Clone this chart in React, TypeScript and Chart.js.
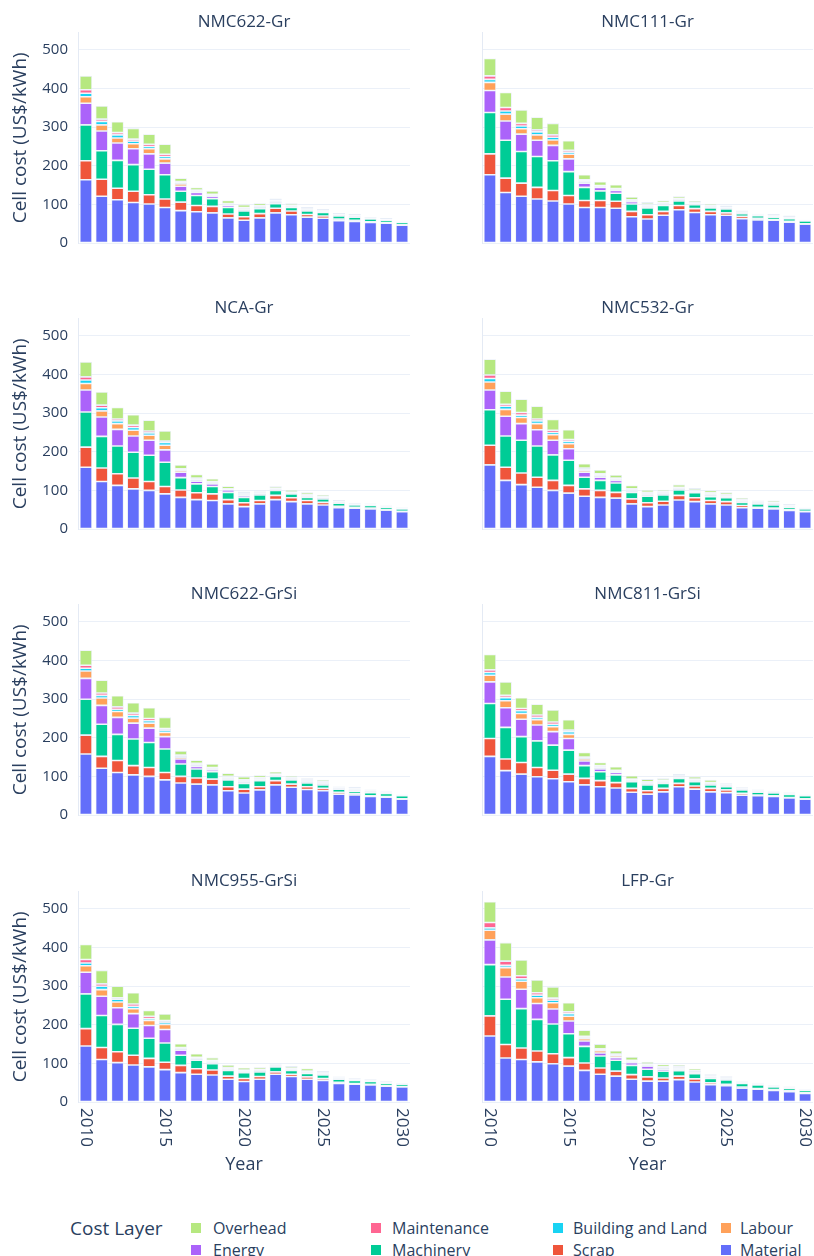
import React, { useEffect, useRef } from 'react';
import { Chart, registerables } from 'chart.js';

Chart.register(...registerables);
Chart.defaults.font.family = '"Open Sans", sans-serif';

// ---------- DATA ----------
const years = ['2010', '2011', '2012', '2013', '2014', '2015', '2016', '2017', '2018', '2019', '2020',
  '2021', '2022', '2023', '2024', '2025', '2026', '2027', '2028', '2029', '2030'];
const xTickLabels = ['2010', '2015', '2020', '2025', '2030'];
const yTicks = [0, 100, 200, 300, 400, 500];
const yMax = 545;

// stack order, bottom to top
const layerKeys = ['material', 'scrap', 'machinery', 'energy', 'labour', 'building', 'maintenance', 'overhead'];
const layerNames = ['Material', 'Scrap', 'Machinery', 'Energy', 'Labour', 'Building and Land', 'Maintenance', 'Overhead'];
const layerColors = ['#636EFA', '#EF553B', '#00CC96', '#AB63FA', '#FFA15A', '#19D3F3', '#FF6692', '#B6E880'];

const NMC622_Gr = {
  material: [164, 121, 112, 105, 101, 92, 84, 81, 78, 65, 59, 65, 78, 73, 67, 64, 58, 56, 53, 51, 46],
  scrap: [49, 44, 30, 29, 24, 22, 22, 16, 17, 10, 9, 11, 12, 10, 7, 6, 4, 3, 2, 2, 1],
  machinery: [93, 74, 72, 69, 66, 63, 28, 26, 20, 17, 15, 13, 12, 9, 9, 9, 8, 8, 7, 6, 6],
  energy: [56, 51, 45, 41, 40, 30, 13, 8, 6, 5, 4, 4, 4, 2, 2, 2, 2, 2, 1, 1, 0.5],
  labour: [17, 16, 13, 13, 13, 11, 6, 3, 2, 2, 2, 2, 2, 2, 2, 1, 1, 1, 1, 1, 0.5],
  building: [9, 9, 8, 7, 6, 6, 4, 2, 2, 2, 2, 1, 2, 1, 1, 1, 1, 1, 0.5, 0.5, 0.5],
  maintenance: [9, 6, 6, 5, 6, 6, 2, 1, 1, 1, 1, 1, 1, 1, 1, 1, 1, 1, 0.5, 0.5, 0.5],
  overhead: [36, 34, 28, 28, 26, 26, 9, 7, 9, 8, 7, 6, 4, 5, 4, 4, 3, 3, 2, 3, 1],
};

const NMC111_Gr = {
  material: [177, 131, 121, 114, 109, 101, 92, 92, 90, 68, 62, 72, 86, 79, 73, 72, 63, 60, 59, 54, 49],
  scrap: [54, 37, 34, 30, 27, 22, 18, 18, 18, 14, 11, 10, 11, 10, 9, 6, 6, 4, 2, 2, 1],
  machinery: [107, 98, 82, 80, 77, 62, 34, 25, 21, 19, 18, 15, 12, 10, 9, 10, 7, 7, 6, 7, 7],
  energy: [57, 50, 45, 42, 40, 33, 11, 9, 7, 6, 4, 3, 3, 2, 2, 2, 2, 1, 1, 1, 0.5],
  labour: [21, 18, 14, 14, 14, 12, 4, 2, 2, 2, 2, 2, 2, 1, 2, 1, 1, 1, 1, 1, 0.5],
  building: [8, 8, 7, 8, 7, 5, 3, 2, 2, 2, 2, 2, 1, 1, 1, 1, 1, 0.5, 1, 1, 0.5],
  maintenance: [9, 9, 7, 5, 6, 5, 2, 1, 1, 1, 2, 1, 1, 1, 1, 1, 1, 0.5, 1, 1, 0.5],
  overhead: [45, 39, 35, 33, 30, 25, 13, 10, 10, 7, 5, 5, 5, 5, 5, 4, 3, 2, 4, 4, 1.5],
};

const NCA_Gr = {
  material: [160, 123, 113, 104, 100, 91, 82, 76, 74, 65, 58, 65, 76, 71, 65, 62, 55, 54, 52, 49, 45],
  scrap: [52, 35, 30, 28, 23, 19, 19, 18, 17, 11, 10, 9, 11, 10, 9, 7, 4, 2, 2, 1, 1],
  machinery: [91, 82, 72, 67, 68, 63, 32, 23, 19, 19, 14, 14, 13, 10, 8, 9, 8, 6, 7, 6, 6],
  energy: [57, 50, 43, 42, 39, 32, 14, 7, 7, 6, 5, 4, 2, 2, 3, 3, 2, 1, 1, 1, 0.5],
  labour: [17, 16, 15, 15, 13, 12, 5, 4, 3, 1, 2, 2, 2, 1, 2, 1, 1, 1, 1, 1, 0.5],
  building: [9, 8, 7, 7, 6, 7, 2, 2, 2, 1, 2, 2, 1, 1, 1, 1, 1, 1, 0.5, 0.5, 0.5],
  maintenance: [8, 7, 5, 6, 5, 4, 2, 2, 1, 1, 2, 1, 1, 1, 1, 1, 1, 0.5, 0.5, 0.5, 0.5],
  overhead: [39, 34, 30, 27, 28, 26, 10, 9, 7, 7, 4, 4, 5, 5, 6, 5, 3, 2.5, 2, 2, 2],
};

const NMC532_Gr = {
  material: [166, 126, 115, 108, 100, 93, 85, 82, 80, 65, 58, 62, 75, 71, 65, 62, 55, 54, 52, 48, 45],
  scrap: [51, 34, 30, 26, 26, 20, 19, 18, 15, 13, 10, 10, 12, 10, 9, 9, 6, 2, 2, 2, 1],
  machinery: [92, 81, 85, 81, 66, 65, 30, 26, 24, 17, 17, 16, 14, 13, 10, 10, 8, 9, 8, 6, 6],
  energy: [51, 51, 43, 42, 38, 30, 13, 8, 7, 4, 4, 3, 3, 3, 4, 3, 3, 2, 3, 2, 1],
  labour: [21, 18, 16, 16, 14, 13, 5, 4, 3, 2, 2, 2, 2, 2, 2, 2, 2, 2, 2, 2, 1],
  building: [9, 8, 6, 7, 6, 6, 3, 3, 2, 2, 2, 2, 1, 1, 2, 2, 1, 1, 1, 1, 0.5],
  maintenance: [9, 5, 7, 5, 6, 5, 3, 2, 1, 1, 2, 2, 1, 1, 2, 1, 1, 1, 1, 1, 0.5],
  overhead: [41, 34, 34, 33, 28, 25, 11, 10, 8, 9, 6, 5, 7, 5, 6, 6, 5, 3, 5, 3, 1],
};

const NMC622_GrSi = {
  material: [158, 121, 110, 104, 100, 91, 83, 80, 78, 63, 57, 65, 78, 72, 66, 63, 54, 52, 48, 46, 41],
  scrap: [49, 31, 31, 24, 23, 19, 17, 16, 15, 10, 10, 8, 11, 8, 7, 6, 5, 3, 2, 2, 1],
  machinery: [93, 83, 68, 69, 65, 61, 32, 23, 19, 18, 15, 16, 11, 11, 10, 9, 8, 6, 8, 8, 8],
  energy: [54, 49, 44, 41, 37, 32, 13, 7, 5, 4, 4, 3, 2, 2, 3, 3, 2, 3, 2, 2, 1],
  labour: [19, 19, 15, 13, 13, 11, 5, 4, 3, 2, 2, 2, 2, 2, 2, 2, 1, 2, 2, 1, 1],
  building: [7, 7, 6, 7, 6, 6, 3, 2, 2, 2, 2, 2, 1, 1, 2, 2, 1, 2, 1, 1, 0.5],
  maintenance: [8, 6, 6, 6, 6, 4, 2, 2, 1, 1, 1, 1, 1, 1, 1, 1, 1, 1, 1, 1, 0.5],
  overhead: [39, 33, 29, 27, 28, 29, 11, 8, 9, 8, 8, 6, 6, 5, 4, 5, 2, 4, 2, 2, 1],
};

const NMC811_GrSi = {
  material: [152, 115, 106, 99, 94, 86, 78, 73, 70, 59, 54, 60, 73, 67, 60, 58, 51, 50, 48, 44, 41],
  scrap: [46, 30, 30, 24, 22, 20, 17, 16, 14, 10, 9, 9, 9, 8, 9, 7, 5, 2, 2, 1, 1],
  machinery: [91, 82, 67, 69, 65, 62, 33, 23, 20, 17, 15, 13, 13, 11, 9, 8, 9, 7, 7, 8, 8],
  energy: [56, 51, 45, 41, 35, 30, 12, 7, 6, 3, 3, 3, 2, 3, 2, 2, 2, 2, 2, 2, 1],
  labour: [17, 18, 15, 14, 13, 11, 5, 4, 3, 2, 2, 2, 2, 2, 2, 2, 1, 2, 1, 1, 1],
  building: [7, 8, 7, 6, 6, 7, 3, 3, 2, 1, 2, 2, 2, 1, 1, 1, 1, 1, 1, 1, 0.5],
  maintenance: [7, 6, 6, 6, 6, 4, 2, 2, 1, 1, 1, 1, 1, 1, 1, 1, 1, 1, 1, 1, 0.5],
  overhead: [40, 35, 28, 28, 31, 27, 12, 8, 9, 9, 7, 5, 4, 6, 7, 3, 2, 1, 1, 1, 1],
};

const NMC955_GrSi = {
  material: [145, 110, 102, 96, 91, 84, 76, 72, 70, 59, 53, 59, 72, 66, 59, 56, 48, 46, 44, 41, 39],
  scrap: [45, 31, 28, 25, 22, 19, 19, 14, 13, 8, 8, 7, 6, 6, 6, 5, 3, 2, 2, 1, 1],
  machinery: [90, 83, 71, 70, 52, 50, 26, 22, 16, 15, 15, 12, 13, 10, 9, 9, 8, 8, 7, 6, 6],
  energy: [56, 50, 43, 38, 33, 35, 13, 4, 4, 3, 3, 3, 2, 2, 2, 2, 2, 1, 1, 1, 0.5],
  labour: [17, 17, 15, 13, 13, 13, 3, 2, 2, 2, 2, 2, 2, 2, 2, 2, 1, 1, 1, 1, 0.5],
  building: [7, 9, 7, 6, 5, 6, 2, 1, 2, 1, 1, 1, 1, 1, 1, 1, 1, 1, 1, 1, 0.5],
  maintenance: [9, 6, 4, 6, 6, 4, 2, 1, 1, 1, 1, 1, 1, 1, 1, 1, 1, 1, 1, 1, 0.5],
  overhead: [39, 35, 30, 29, 15, 17, 10, 9, 7, 7, 6, 5, 4, 5, 7, 4, 2, 2, 2, 2, 1],
};

const LFP_Gr = {
  material: [171, 114, 110, 104, 99, 93, 82, 72, 67, 59, 54, 54, 58, 52, 45, 42, 36, 33, 30, 27, 22],
  scrap: [52, 35, 30, 28, 26, 22, 19, 16, 13, 12, 11, 8, 9, 8, 5, 4, 3, 2, 2, 2, 2],
  machinery: [133, 117, 102, 82, 77, 62, 43, 31, 28, 24, 20, 18, 14, 13, 11, 11, 9, 9, 7, 6, 6],
  energy: [64, 58, 50, 41, 39, 33, 14, 8, 7, 7, 8, 5, 3, 3, 3, 2, 2, 1, 1, 1, 1],
  labour: [25, 24, 21, 15, 16, 12, 6, 6, 5, 3, 2, 3, 3, 2, 2, 2, 1, 1, 1, 1, 1],
  building: [6, 6, 6, 7, 7, 7, 4, 3, 2, 2, 2, 2, 2, 2, 1, 1, 1, 1, 1, 1, 1],
  maintenance: [14, 11, 8, 6, 5, 5, 2, 2, 2, 1, 1, 1, 2, 1, 1, 1, 1, 1, 1, 1, 0.5],
  overhead: [54, 48, 41, 33, 29, 23, 16, 12, 9, 9, 6, 6, 5, 5, 4, 4, 1, 2, 1, 1, 0.5],
};

const panelTitles = ['NMC622-Gr', 'NMC111-Gr', 'NCA-Gr', 'NMC532-Gr', 'NMC622-GrSi', 'NMC811-GrSi', 'NMC955-GrSi', 'LFP-Gr'];
const panelData = [NMC622_Gr, NMC111_Gr, NCA_Gr, NMC532_Gr, NMC622_GrSi, NMC811_GrSi, NMC955_GrSi, LFP_Gr];

const yAxisTitle = 'Cell cost (US$/kWh)';
const xAxisTitle = 'Year';
const legendTitle = 'Cost Layer';
const legendRows = [
  ['Overhead', 'Maintenance', 'Building and Land', 'Labour'],
  ['Energy', 'Machinery', 'Scrap', 'Material'],
];

// ---------- LAYOUT ----------
const TEXT_COLOR = '#2a3f5f';
const ROW_ZERO = [243, 529, 815, 1102];
const PX_PER_UNIT = 0.386;

const textPlugin = {
  id: 'subText',
  afterDraw(chart: any, _args: any, opts: any) {
    const { ctx, chartArea: a, scales } = chart;
    ctx.save();
    ctx.fillStyle = TEXT_COLOR;
    ctx.textAlign = 'center';
    ctx.textBaseline = 'middle';
    ctx.font = '17px "Open Sans"';
    ctx.fillText(opts.title, (a.left + a.right) / 2, a.top - 10);
    if (opts.showY) {
      ctx.save();
      ctx.translate(21, (a.top + a.bottom) / 2);
      ctx.rotate(-Math.PI / 2);
      ctx.font = '19px "Open Sans"';
      ctx.fillText(yAxisTitle, 0, 0);
      ctx.restore();
    }
    if (opts.showX) {
      ctx.font = '17px "Open Sans"';
      xTickLabels.forEach((lab) => {
        const x = scales.x.getPixelForValue(years.indexOf(lab));
        ctx.save();
        ctx.translate(x, a.bottom + 6);
        ctx.rotate(Math.PI / 2);
        ctx.textAlign = 'left';
        ctx.textBaseline = 'middle';
        ctx.fillText(lab, 0, 0);
        ctx.restore();
      });
      ctx.font = '18px "Open Sans"';
      ctx.textAlign = 'center';
      ctx.textBaseline = 'middle';
      ctx.fillText(xAxisTitle, (a.left + a.right) / 2, a.bottom + 63);
    }
    ctx.restore();
  },
};

function Subplot({ idx }: { idx: number }) {
  const ref = useRef<HTMLCanvasElement>(null);
  const row = Math.floor(idx / 2);
  const col = idx % 2;
  const isBottom = row === 3;
  const left = col === 0 ? 0 : 414;
  const width = col === 0 ? 414 : 400;
  const z = ROW_ZERO[row];
  const top = z - 240;
  const height = isBottom ? 320 : 275;
  const yWidth = col === 0 ? 78 : 68;

  useEffect(() => {
    const data: any = panelData[idx];
    const chart = new Chart(ref.current as HTMLCanvasElement, {
      type: 'bar',
      data: {
        labels: years,
        datasets: layerKeys.map((k, i) => ({
          label: layerNames[i],
          data: data[k],
          backgroundColor: layerColors[i],
          borderColor: '#E8EEF7',
          borderWidth: 0.8,
          borderSkipped: false,
          barPercentage: 0.78,
          categoryPercentage: 1,
        })),
      },
      options: {
        responsive: false,
        animation: false,
        events: [],
        layout: {
          padding: { left: 0, right: col === 0 ? 4 : 1, top: 240 - yMax * PX_PER_UNIT, bottom: height - 240 },
        },
        plugins: {
          legend: { display: false },
          tooltip: { enabled: false },
          subText: { title: panelTitles[idx], showY: col === 0, showX: isBottom },
        } as any,
        scales: {
          x: { type: 'category', stacked: true, display: false, offset: true },
          y: {
            stacked: true,
            min: 0,
            max: yMax,
            afterBuildTicks: (s: any) => { s.ticks = yTicks.map((v) => ({ value: v })); },
            afterFit: (s: any) => { s.width = yWidth; },
            grid: { color: '#EBF0F8', lineWidth: 1, drawTicks: false },
            border: { display: true, color: '#E4EAF4', width: 1 },
            ticks: {
              display: col === 0,
              padding: 10,
              color: TEXT_COLOR,
              font: { family: '"Open Sans"', size: 15 },
            },
          },
        },
      },
      plugins: [textPlugin as any],
    });
    return () => chart.destroy();
  }, []);

  return (
    <canvas
      ref={ref}
      width={width}
      height={height}
      style={{ position: 'absolute', left, top, width, height }}
    />
  );
}

const swatchLeft = [191, 371, 553, 721];
const textLeft = [213, 392, 573, 740];
const rowCenter = [1228, 1250];

export default function App() {
  return (
    <div
      style={{
        position: 'fixed', left: 0, top: 0, width: 814, height: 1256, overflow: 'hidden',
        background: '#ffffff', fontFamily: '"Open Sans", sans-serif', color: TEXT_COLOR,
      }}
    >
      {panelTitles.map((_, i) => <Subplot key={i} idx={i} />)}
      <div style={{ position: 'absolute', left: 70, top: rowCenter[0] - 14, height: 28, lineHeight: '28px', fontSize: 19, whiteSpace: 'nowrap' }}>
        {legendTitle}
      </div>
      {legendRows.map((r, ri) =>
        r.map((name, ci) => (
          <React.Fragment key={name}>
            <div
              style={{
                position: 'absolute', left: swatchLeft[ci], top: rowCenter[ri] - 5, width: 10, height: 10,
                background: layerColors[layerNames.indexOf(name)],
              }}
            />
            <div
              style={{
                position: 'absolute', left: textLeft[ci], top: rowCenter[ri] - 11, height: 22, lineHeight: '22px',
                fontSize: 16, whiteSpace: 'nowrap',
              }}
            >
              {name}
            </div>
          </React.Fragment>
        ))
      )}
    </div>
  );
}
